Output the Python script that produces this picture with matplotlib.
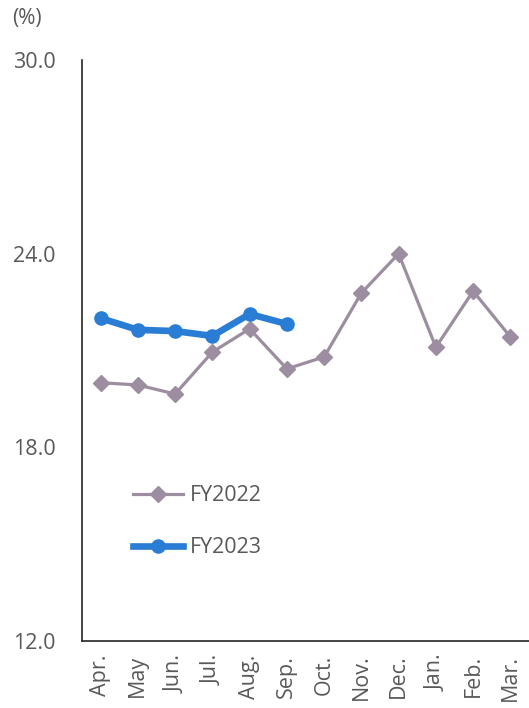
import matplotlib.pyplot as plt

plt.rcParams["font.family"] = ["Open Sans", "DejaVu Sans"]

months = ["Apr.", "May", "Jun.", "Jul.", "Aug.", "Sep.",
          "Oct.", "Nov.", "Dec.", "Jan.", "Feb.", "Mar."]
fy2022 = [20.0, 19.93, 19.65, 20.95, 21.67, 20.43,
          20.8, 22.78, 24.0, 21.1, 22.84, 21.42]
fy2023 = [22.0, 21.64, 21.6, 21.45, 22.13, 21.82]
yticks = [12.0, 18.0, 24.0, 30.0]

text_color = "#595959"

fig = plt.figure(figsize=(5.29, 7.08), dpi=100)
ax = fig.add_axes([0.155, 0.095, 0.845, 0.82])

x22 = list(range(len(fy2022)))
x23 = list(range(len(fy2023)))
ax.plot(x22, fy2022, color="#9D8DA0", lw=2.3, marker="D", ms=8,
        label="FY2022", zorder=2)
ax.plot(x23, fy2023, color="#2A7DD4", lw=4.8, marker="o", ms=9.5,
        label="FY2023", zorder=3)

ax.set_xlim(-0.5, len(months) - 0.5)
ax.set_ylim(12, 30)
ax.set_yticks(yticks)
ax.set_yticklabels([f"{v:.1f}" for v in yticks])
ax.set_xticks(x22)
ax.set_xticklabels(months, rotation=90)
ax.tick_params(length=0, labelsize=15.5, colors=text_color, pad=10)
ax.tick_params(axis="y", pad=19)

for s in ["top", "right"]:
    ax.spines[s].set_visible(False)
for s in ["left", "bottom"]:
    ax.spines[s].set_color("#262626")
    ax.spines[s].set_linewidth(1.2)

ax.text(-0.157, 1.072, "(%)", transform=ax.transAxes, fontsize=15,
        color=text_color, ha="left", va="center")

leg = ax.legend(loc="center left", bbox_to_anchor=(0.07, 0.205), frameon=False,
                fontsize=15.5, labelspacing=1.45, handlelength=2.35,
                handletextpad=0.3)
for t in leg.get_texts():
    t.set_color(text_color)

fig.savefig("out.png", dpi=100)
